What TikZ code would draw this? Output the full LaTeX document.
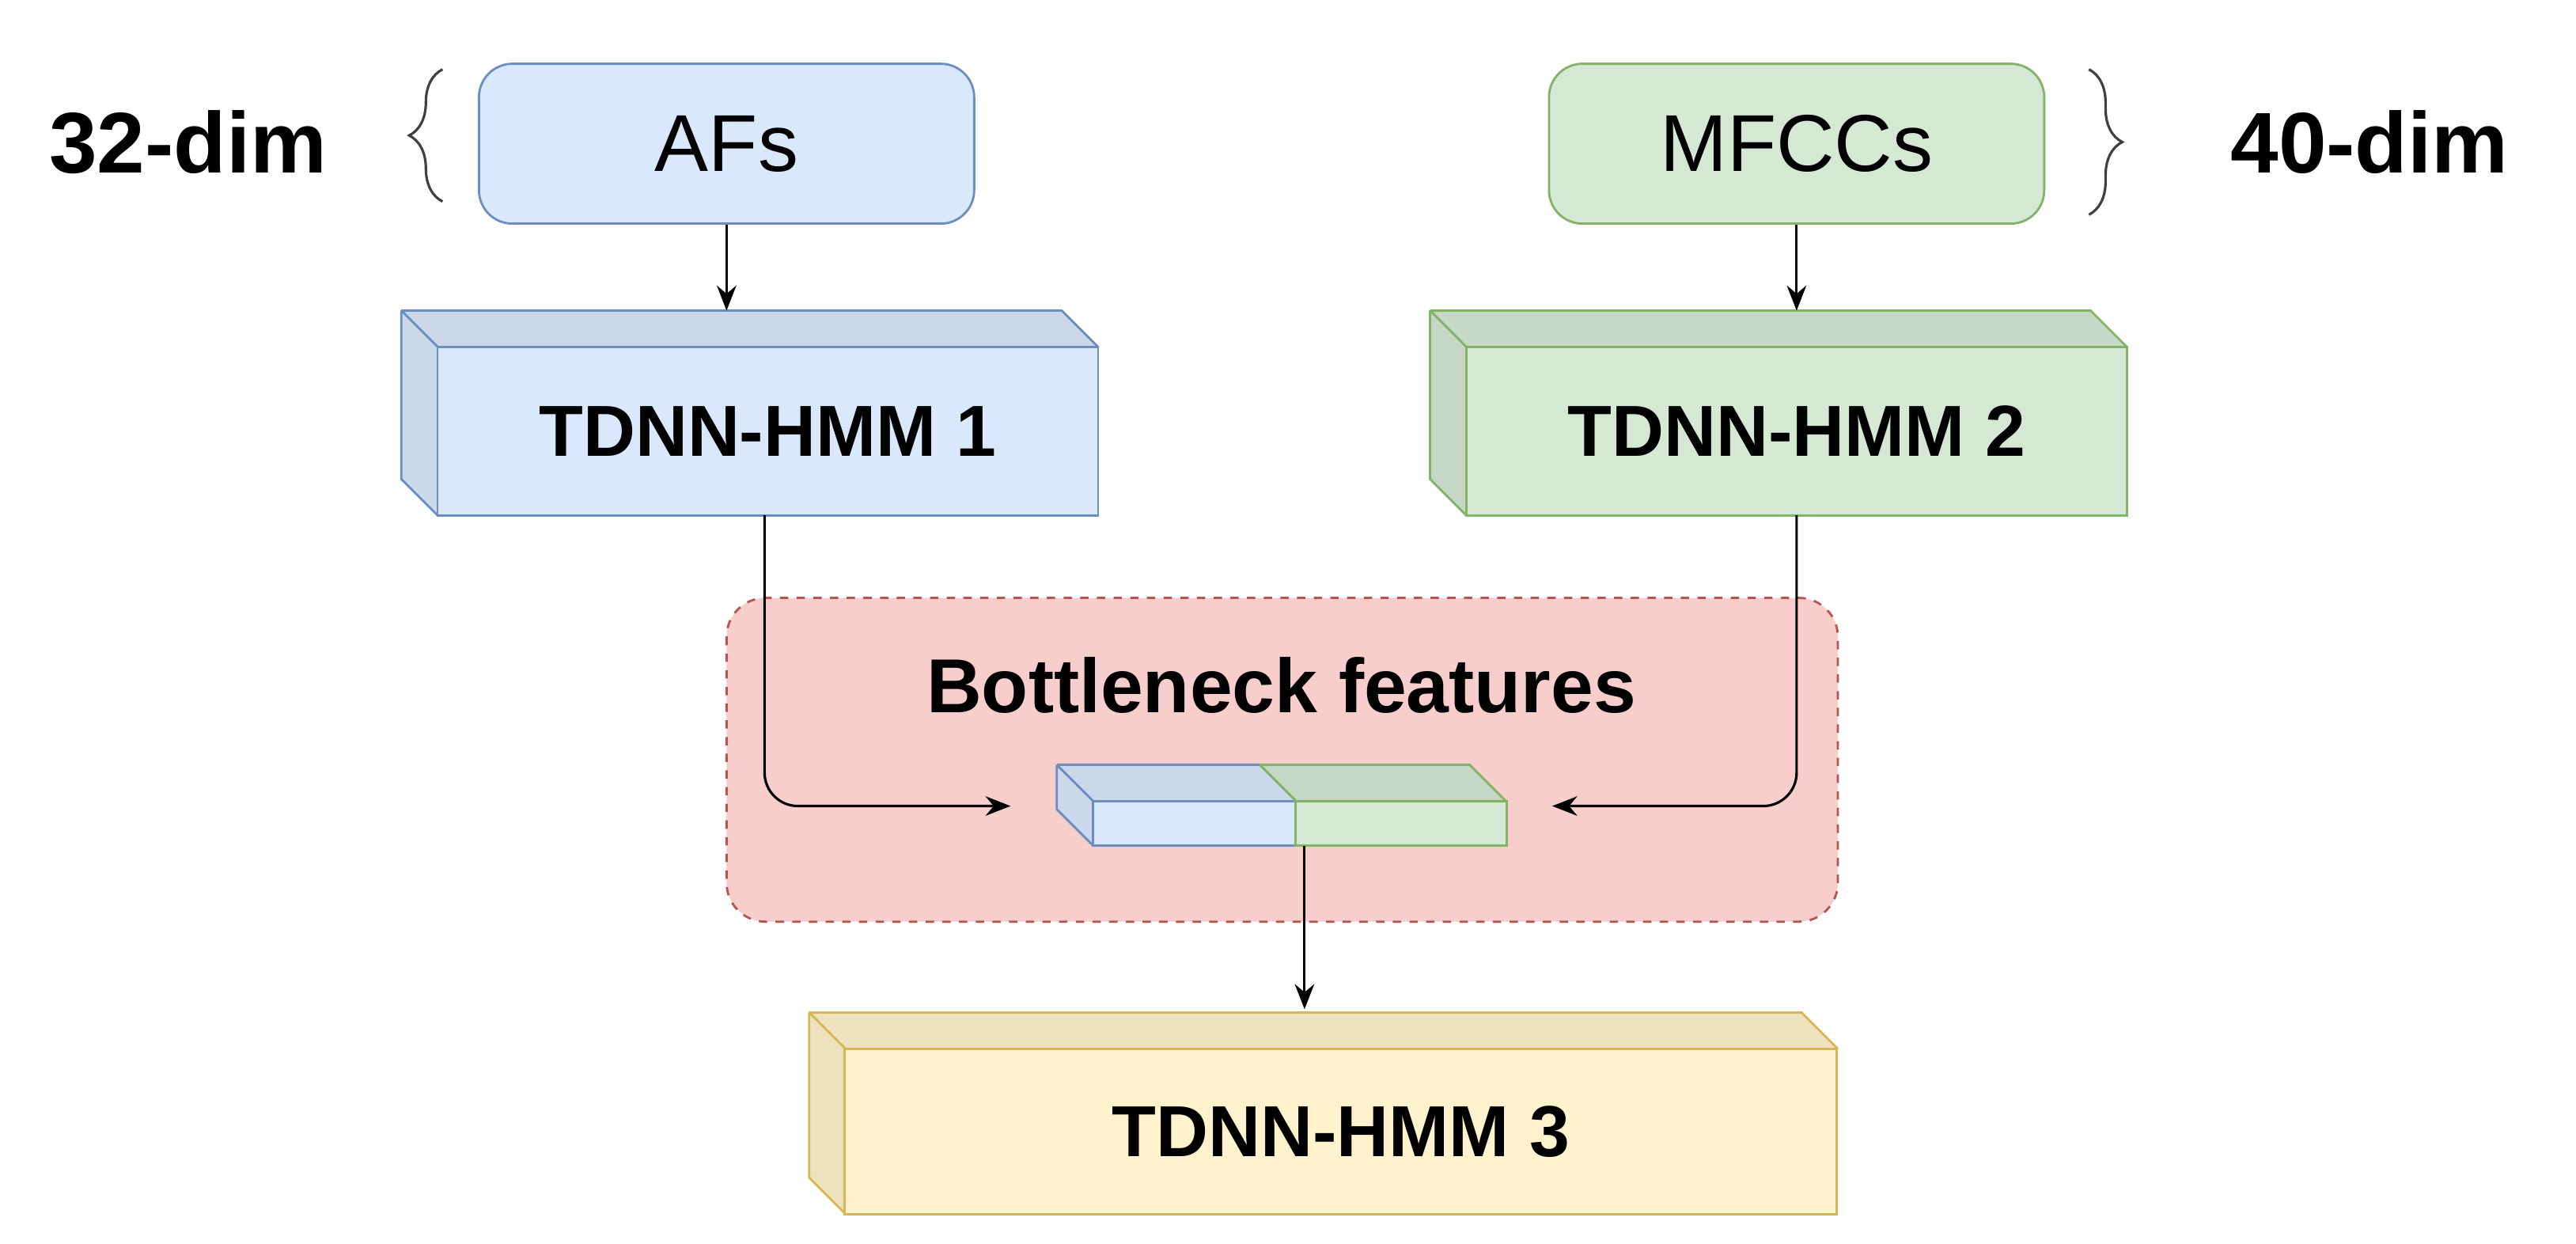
\documentclass[tikz,border=0pt]{standalone}
\usepackage{fontspec}
\setmainfont{Liberation Sans}
\usetikzlibrary{arrows.meta,decorations.pathreplacing}
\definecolor{bF}{HTML}{DAE8FC}\definecolor{bS}{HTML}{6C8EBF}
\definecolor{gF}{HTML}{D5E8D4}\definecolor{gS}{HTML}{82B366}
\definecolor{yF}{HTML}{FFF2CC}\definecolor{yS}{HTML}{D6B656}
\definecolor{rF}{HTML}{F8CECC}\definecolor{rS}{HTML}{B85450}
\tikzset{
 arr/.style={-{Stealth[length=9pt,width=7pt]},line width=0.9pt,black},
 box/.style={draw=#1S,fill=#1F,rounded corners=12pt,line width=0.8pt,minimum width=6.26cm,minimum height=2.02cm,font=\fontsize{29}{34}\selectfont},
 lab/.style={font=\bfseries\fontsize{26}{31}\selectfont},
 dim/.style={font=\bfseries\fontsize{31}{36}\selectfont},
}
\newcommand{\cube}[7]{% x1 y1 x2 y2 d fill stroke
 \fill[#6!93!black] (#1-#5,#2-#5) -- (#3-#5,#2-#5) -- (#3,#2) -- (#1,#2) -- cycle;
 \fill[#6!93!black] (#1-#5,#2-#5) -- (#1,#2) -- (#1,#4) -- (#1-#5,#4-#5) -- cycle;
 \draw[#7,line width=0.8pt,line join=round] (#1-#5,#2-#5) -- (#3-#5,#2-#5) -- (#3,#2) (#1-#5,#2-#5) -- (#1,#2) (#1-#5,#2-#5) -- (#1-#5,#4-#5) -- (#1,#4);
}
\begin{document}
\begin{tikzpicture}[x=0.02087cm,y=-0.02087cm]
\useasboundingbox (0,0) rectangle (1560,753);
% region
\draw[rS,fill=rF,dashed,line width=0.8pt,rounded corners=14pt] (440,362) rectangle (1113,558);
\node[font=\bfseries\fontsize{27.5}{32}\selectfont] (bn) at (776,415) {Bottleneck features};
% inputs
\node[box=b] (af) at (440,87) {AFs};
\node[box=g] (mf) at (1088,87) {MFCCs};
\node[dim] (d32) at (114,86) {32-dim};
\node[dim] (d40) at (1435,86) {40-dim};
\draw[black!75,line width=0.9pt,decorate,decoration={brace,amplitude=12pt}] (268,122) -- (268,42);
\draw[black!75,line width=0.9pt,decorate,decoration={brace,amplitude=12pt}] (1265,42) -- (1265,130);
% cubes
\cube{265}{210}{665}{312}{22}{bF}{bS}
\node[lab,draw=bS,fill=bF,line width=0.8pt,minimum width=8.35cm,minimum height=2.13cm] (t1) at (465,261) {TDNN-HMM 1\hspace{0.8cm}};
\cube{888}{210}{1288}{312}{22}{gF}{gS}
\node[lab,draw=gS,fill=gF,line width=0.8pt,minimum width=8.35cm,minimum height=2.13cm] (t2) at (1088,261) {TDNN-HMM 2};
\cube{512}{635}{1113}{735}{22}{yF}{yS}
\node[lab,draw=yS,fill=yF,line width=0.8pt,minimum width=12.54cm,minimum height=2.09cm] (t3) at (812,685) {TDNN-HMM 3};
% bottleneck small cube
\cube{662}{485}{785}{512}{22}{bF}{bS}
\fill[gF!93!black] (763,463) -- (890,463) -- (912,485) -- (785,485) -- cycle;
\draw[gS,line width=0.8pt] (763,463) -- (890,463) -- (912,485);
\node[draw=bS,fill=bF,line width=0.8pt,minimum width=2.57cm,minimum height=0.56cm,inner sep=0] (bb) at (723.5,498.5) {};
\node[draw=gS,fill=gF,line width=0.8pt,minimum width=2.67cm,minimum height=0.56cm,inner sep=0] (gb) at (848.5,498.5) {};
\draw[gS,line width=0.8pt] (763,463) -- (785,485);
\coordinate (c1) at (612,488);
\coordinate (c2) at (940,488);
% arrows
\draw[arr] (af.south) -- ++(0,52);
\draw[arr] (mf.south) -- ++(0,52);
\draw[arr,rounded corners=12pt] (463,312) -- (463,488) -- (c1);
\draw[arr,rounded corners=12pt] (1088,312) -- (1088,488) -- (c2);
\draw[arr] (790,512) -- (790,611);
\end{tikzpicture}
\end{document}
